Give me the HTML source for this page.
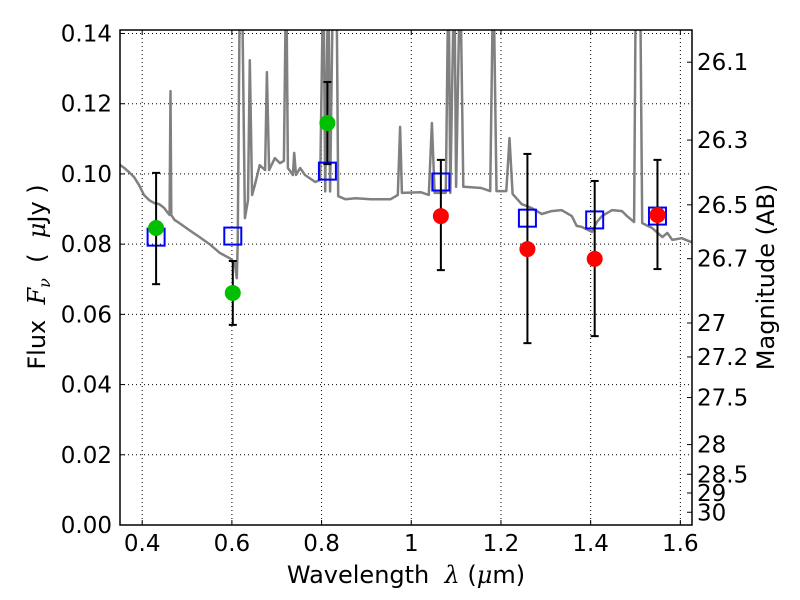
<!DOCTYPE html>
<html><head><meta charset="utf-8"><style>
body{margin:0;background:#fff}
svg{display:block;font-family:"DejaVu Sans","Liberation Sans",sans-serif}
</style></head><body>
<svg id="chart" width="800" height="600" xmlns="http://www.w3.org/2000/svg"></svg>
<script>
const specLam=[0.348,0.360,0.371,0.382,0.393,0.404,0.416,0.427,0.438,0.449,0.456,0.461,0.463,0.465,0.472,0.483,0.505,0.528,0.550,0.573,0.595,0.606,0.611,0.613,0.618,0.622,0.629,0.636,0.640,0.645,0.651,0.662,0.674,0.678,0.683,0.696,0.707,0.716,0.721,0.725,0.736,0.739,0.743,0.752,0.763,0.786,0.797,0.804,0.808,0.815,0.819,0.826,0.833,0.837,0.853,0.876,0.909,0.954,0.970,0.975,0.979,1.021,1.039,1.046,1.052,1.077,1.083,1.087,1.096,1.100,1.109,1.116,1.122,1.156,1.176,1.183,1.190,1.212,1.219,1.226,1.246,1.268,1.291,1.313,1.335,1.358,1.369,1.380,1.403,1.414,1.425,1.448,1.470,1.481,1.497,1.501,1.510,1.515,1.537,1.560,1.571,1.582,1.603,1.630];
const specFlux=[0.1028,0.1017,0.1005,0.0991,0.0968,0.0940,0.0925,0.0917,0.0914,0.0903,0.0891,0.0883,0.1236,0.0883,0.0869,0.0860,0.0840,0.0820,0.0800,0.0775,0.0760,0.0749,0.0703,0.08,0.16,0.16,0.0874,0.0925,0.1324,0.0940,0.0968,0.1025,0.1011,0.129,0.1011,0.1045,0.1031,0.1037,0.16,0.1017,0.0997,0.1060,0.0997,0.1017,0.0997,0.0977,0.0983,0.16,0.095,0.16,0.095,0.16,0.16,0.0937,0.0928,0.0931,0.0928,0.0928,0.0940,0.1134,0.0946,0.0948,0.0940,0.1145,0.0946,0.0946,0.16,0.0946,0.16,0.0963,0.16,0.0963,0.0963,0.0960,0.0951,0.16,0.0951,0.0951,0.1102,0.0943,0.0914,0.0903,0.0886,0.0894,0.0897,0.0880,0.0852,0.0849,0.0835,0.0863,0.0880,0.0897,0.0894,0.0880,0.0863,0.16,0.16,0.0860,0.0846,0.0820,0.0832,0.0812,0.0817,0.0803];
const greenLam=[0.431,0.602,0.813];
const greenFlux=[0.0846,0.0661,0.1145];
const greenHi=[0.1003,0.0752,0.1262];
const greenLo=[0.0686,0.0570,0.1028];
const redLam=[1.066,1.259,1.409,1.549];
const redFlux=[0.0880,0.0786,0.0758,0.0883];
const redHi=[0.104,0.1057,0.098,0.104];
const redLo=[0.0726,0.0518,0.0538,0.0729];
const modelLam=[0.431,0.602,0.813,1.066,1.259,1.409,1.549];
const modelFlux=[0.0820,0.0823,0.1008,0.0977,0.0874,0.0869,0.0880];
const xTicks=[0.4,0.6,0.8,1,1.2,1.4,1.6];
const xTickLabels=["0.4","0.6","0.8","1","1.2","1.4","1.6"];
const yTicks=[0,0.02,0.04,0.06,0.08,0.10,0.12,0.14];
const yTickLabels=["0.00","0.02","0.04","0.06","0.08","0.10","0.12","0.14"];
const magTicks=[26.1,26.3,26.5,26.7,27,27.2,27.5,28,28.5,29,30];
const magTickLabels=["26.1","26.3","26.5","26.7","27","27.2","27.5","28","28.5","29","30"];

const L=120,R=692,T=30,B=525;
const xmin=0.3505,xmax=1.626,ymin=0,ymax=0.141;
const X=v=>L+(v-xmin)/(xmax-xmin)*(R-L);
const Y=v=>B-(v-ymin)/(ymax-ymin)*(B-T);
const magY=m=>Y(Math.pow(10,(23.9-m)/2.5));
const svg=document.getElementById('chart');
const NS="http://www.w3.org/2000/svg";
function mk(tag,attrs,parent){const e=document.createElementNS(NS,tag);for(const k in attrs)e.setAttribute(k,attrs[k]);(parent||svg).appendChild(e);return e;}

const defs=mk('defs',{});
const cp=mk('clipPath',{id:'clip'},defs);
mk('rect',{x:L,y:T,width:R-L,height:B-T},cp);

xTicks.forEach((v,i)=>{
  const g=mk('line',{x1:X(v),x2:X(v),y1:T,y2:B,stroke:'#000','stroke-width':1,'stroke-dasharray':'1,3'});
  
  
  mk('line',{x1:X(v),x2:X(v),y1:B,y2:B-5,stroke:'#000'});
  mk('line',{x1:X(v),x2:X(v),y1:T,y2:T+5,stroke:'#000'});
  const t=mk('text',{x:X(v),y:551,'text-anchor':'middle','font-size':23});
  t.textContent=xTickLabels[i];
  
  
});
yTicks.forEach((v,i)=>{
  const g=mk('line',{x1:L,x2:R,y1:Y(v),y2:Y(v),stroke:'#000','stroke-width':1,'stroke-dasharray':'1,3'});
  
  
  mk('line',{x1:L,x2:L+5,y1:Y(v),y2:Y(v),stroke:'#000'});
  const t=mk('text',{x:112,y:Y(v)+8,'text-anchor':'end','font-size':23});
  t.textContent=yTickLabels[i];
  
  
});
magTicks.forEach((m,i)=>{
  mk('line',{x1:R,x2:R-5,y1:magY(m),y2:magY(m),stroke:'#000'});
  const t=mk('text',{x:697,y:magY(m)+8,'font-size':23});
  t.textContent=magTickLabels[i];
  
  
});

const gc=mk('g',{'clip-path':'url(#clip)'});
const pts=specLam.map((l,i)=>X(l).toFixed(1)+','+Y(specFlux[i]).toFixed(1)).join(' ');
const sp=mk('polyline',{points:pts,fill:'none',stroke:'#808080','stroke-width':2.5,'stroke-linejoin':'round'},gc);



modelLam.forEach((l,i)=>{
  const r=mk('rect',{x:X(l)-8.5,y:Y(modelFlux[i])-8.5,width:17,height:17,fill:'none',stroke:'#0000ff','stroke-width':2});
  
  
});
function errbar(l,lo,hi){
  const x=X(l);
  const g=mk('g',{stroke:'#000','stroke-width':2});
  
  
  mk('line',{x1:x,x2:x,y1:Y(lo),y2:Y(hi)},g);
  mk('line',{x1:x-4,x2:x+4,y1:Y(lo),y2:Y(lo)},g);
  mk('line',{x1:x-4,x2:x+4,y1:Y(hi),y2:Y(hi)},g);
}
greenLam.forEach((l,i)=>{
  errbar(l,greenLo[i],greenHi[i]);
  const c=mk('circle',{cx:X(l),cy:Y(greenFlux[i]),r:8,fill:'#00c000'});
  
  
});
redLam.forEach((l,i)=>{
  errbar(l,redLo[i],redHi[i]);
  const c=mk('circle',{cx:X(l),cy:Y(redFlux[i]),r:8,fill:'#ff0000'});
  
  
});

const fr=mk('rect',{x:L,y:T,width:R-L,height:B-T,fill:'none',stroke:'#000','stroke-width':1.5});


</script>
<svg style="position:absolute;left:0;top:0" width="800" height="600" xmlns="http://www.w3.org/2000/svg">
<text x="406" y="583" text-anchor="middle" font-size="24" font-family="DejaVu Sans, sans-serif" xml:space="preserve">Wavelength  <tspan font-family="DejaVu Serif, serif" font-style="italic">λ</tspan> (<tspan font-family="DejaVu Serif, serif" font-style="italic">μ</tspan>m)</text>
<text transform="translate(45,277) rotate(-90)" text-anchor="middle" font-size="24" font-family="DejaVu Sans, sans-serif" xml:space="preserve">Flux  <tspan font-family="DejaVu Serif, serif" font-style="italic">F<tspan font-size="16" dy="5">ν</tspan></tspan><tspan dy="-5">  (  </tspan><tspan font-family="DejaVu Serif, serif" font-style="italic">μ</tspan>Jy )</text>
<text transform="translate(774,277) rotate(-90)" text-anchor="middle" font-size="24" font-family="DejaVu Sans, sans-serif">Magnitude (AB)</text>
</svg>
</body></html>
